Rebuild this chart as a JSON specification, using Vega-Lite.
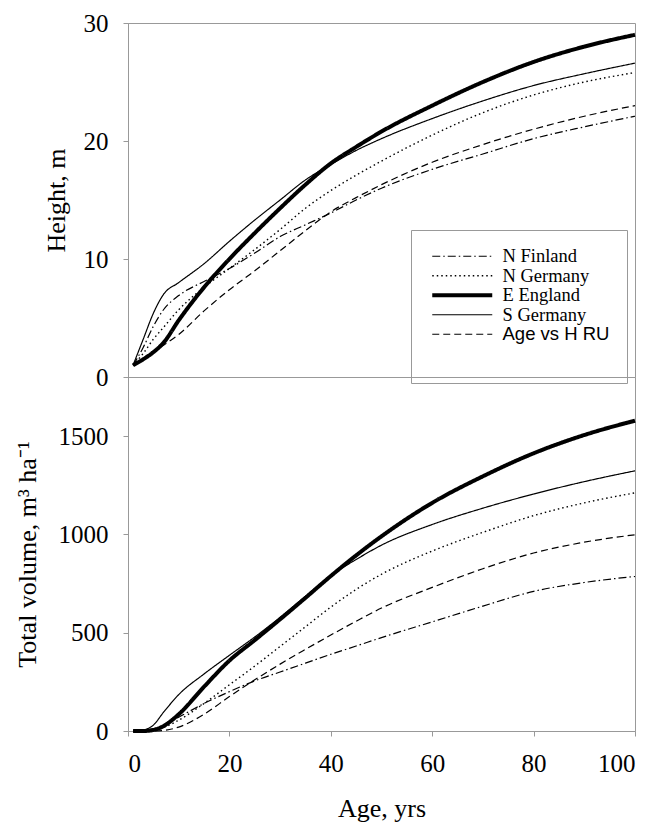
{
  "$schema": "https://vega.github.io/schema/vega-lite/v6.json",
  "background": "white",
  "padding": {"left": 13, "top": 10, "right": 0, "bottom": 0},
  "spacing": 0,
  "bounds": "flush",
  "config": {
    "font": "Liberation Serif",
    "view": {"stroke": "#999", "strokeWidth": 1},
    "axis": {"grid": false, "domainColor": "#999", "tickColor": "#999", "tickSize": 5, "labelFont": "Liberation Serif", "labelFontSize": 25, "labelColor": "black", "titleFont": "Liberation Serif", "titleFontSize": 26, "titleFontWeight": "normal", "titleColor": "black"},
    "legend": {"labelFont": "Liberation Serif", "labelFontSize": 18, "labelColor": "black"}
  },
  "datasets": {
    "height": [
      {"series": "N Finland", "age": 1, "h": 1}, {"series": "N Finland", "age": 3, "h": 2.5}, {"series": "N Finland", "age": 5, "h": 4.3}, {"series": "N Finland", "age": 7, "h": 5.7}, {"series": "N Finland", "age": 10, "h": 6.9}, {"series": "N Finland", "age": 15, "h": 8.1}, {"series": "N Finland", "age": 20, "h": 9.2}, {"series": "N Finland", "age": 25, "h": 10.5}, {"series": "N Finland", "age": 30, "h": 11.9}, {"series": "N Finland", "age": 35, "h": 12.9}, {"series": "N Finland", "age": 40, "h": 13.9}, {"series": "N Finland", "age": 45, "h": 15.0}, {"series": "N Finland", "age": 50, "h": 16.0}, {"series": "N Finland", "age": 60, "h": 17.6}, {"series": "N Finland", "age": 70, "h": 18.9}, {"series": "N Finland", "age": 80, "h": 20.2}, {"series": "N Finland", "age": 90, "h": 21.2}, {"series": "N Finland", "age": 100, "h": 22.1},
      {"series": "N Germany", "age": 1, "h": 1}, {"series": "N Germany", "age": 3, "h": 2.0}, {"series": "N Germany", "age": 5, "h": 3.2}, {"series": "N Germany", "age": 7, "h": 4.2}, {"series": "N Germany", "age": 10, "h": 5.7}, {"series": "N Germany", "age": 15, "h": 7.6}, {"series": "N Germany", "age": 20, "h": 9.2}, {"series": "N Germany", "age": 25, "h": 10.8}, {"series": "N Germany", "age": 30, "h": 12.5}, {"series": "N Germany", "age": 35, "h": 14.3}, {"series": "N Germany", "age": 40, "h": 15.8}, {"series": "N Germany", "age": 45, "h": 17.1}, {"series": "N Germany", "age": 50, "h": 18.3}, {"series": "N Germany", "age": 60, "h": 20.5}, {"series": "N Germany", "age": 70, "h": 22.4}, {"series": "N Germany", "age": 80, "h": 23.9}, {"series": "N Germany", "age": 90, "h": 25.0}, {"series": "N Germany", "age": 100, "h": 25.8},
      {"series": "E England", "age": 1, "h": 1}, {"series": "E England", "age": 3, "h": 1.5}, {"series": "E England", "age": 5, "h": 2.1}, {"series": "E England", "age": 7, "h": 2.9}, {"series": "E England", "age": 10, "h": 4.8}, {"series": "E England", "age": 15, "h": 7.6}, {"series": "E England", "age": 20, "h": 10.0}, {"series": "E England", "age": 25, "h": 12.2}, {"series": "E England", "age": 30, "h": 14.3}, {"series": "E England", "age": 35, "h": 16.3}, {"series": "E England", "age": 40, "h": 18.1}, {"series": "E England", "age": 45, "h": 19.5}, {"series": "E England", "age": 50, "h": 20.8}, {"series": "E England", "age": 60, "h": 23.0}, {"series": "E England", "age": 70, "h": 25.0}, {"series": "E England", "age": 80, "h": 26.7}, {"series": "E England", "age": 90, "h": 28.0}, {"series": "E England", "age": 100, "h": 29.0},
      {"series": "S Germany", "age": 1, "h": 1}, {"series": "S Germany", "age": 3, "h": 3.2}, {"series": "S Germany", "age": 5, "h": 5.4}, {"series": "S Germany", "age": 7, "h": 7.0}, {"series": "S Germany", "age": 10, "h": 8.0}, {"series": "S Germany", "age": 15, "h": 9.6}, {"series": "S Germany", "age": 20, "h": 11.5}, {"series": "S Germany", "age": 25, "h": 13.3}, {"series": "S Germany", "age": 30, "h": 15.0}, {"series": "S Germany", "age": 35, "h": 16.7}, {"series": "S Germany", "age": 40, "h": 18.0}, {"series": "S Germany", "age": 45, "h": 19.2}, {"series": "S Germany", "age": 50, "h": 20.2}, {"series": "S Germany", "age": 60, "h": 21.9}, {"series": "S Germany", "age": 70, "h": 23.4}, {"series": "S Germany", "age": 80, "h": 24.7}, {"series": "S Germany", "age": 90, "h": 25.7}, {"series": "S Germany", "age": 100, "h": 26.6},
      {"series": "Age vs H RU", "age": 1, "h": 1}, {"series": "Age vs H RU", "age": 3, "h": 1.6}, {"series": "Age vs H RU", "age": 5, "h": 2.2}, {"series": "Age vs H RU", "age": 7, "h": 2.7}, {"series": "Age vs H RU", "age": 10, "h": 3.6}, {"series": "Age vs H RU", "age": 15, "h": 5.6}, {"series": "Age vs H RU", "age": 20, "h": 7.4}, {"series": "Age vs H RU", "age": 25, "h": 9.0}, {"series": "Age vs H RU", "age": 30, "h": 10.7}, {"series": "Age vs H RU", "age": 35, "h": 12.4}, {"series": "Age vs H RU", "age": 40, "h": 14.0}, {"series": "Age vs H RU", "age": 45, "h": 15.2}, {"series": "Age vs H RU", "age": 50, "h": 16.3}, {"series": "Age vs H RU", "age": 60, "h": 18.2}, {"series": "Age vs H RU", "age": 70, "h": 19.7}, {"series": "Age vs H RU", "age": 80, "h": 21.0}, {"series": "Age vs H RU", "age": 90, "h": 22.1}, {"series": "Age vs H RU", "age": 100, "h": 23.0}
    ],
    "volume": [
      {"series": "N Finland", "age": 1, "v": 0}, {"series": "N Finland", "age": 3, "v": 3}, {"series": "N Finland", "age": 5, "v": 12}, {"series": "N Finland", "age": 7, "v": 30}, {"series": "N Finland", "age": 10, "v": 70}, {"series": "N Finland", "age": 15, "v": 140}, {"series": "N Finland", "age": 20, "v": 200}, {"series": "N Finland", "age": 25, "v": 255}, {"series": "N Finland", "age": 30, "v": 300}, {"series": "N Finland", "age": 35, "v": 345}, {"series": "N Finland", "age": 40, "v": 390}, {"series": "N Finland", "age": 45, "v": 432}, {"series": "N Finland", "age": 50, "v": 475}, {"series": "N Finland", "age": 60, "v": 555}, {"series": "N Finland", "age": 70, "v": 635}, {"series": "N Finland", "age": 80, "v": 710}, {"series": "N Finland", "age": 90, "v": 755}, {"series": "N Finland", "age": 100, "v": 786},
      {"series": "N Germany", "age": 1, "v": 0}, {"series": "N Germany", "age": 3, "v": 0}, {"series": "N Germany", "age": 5, "v": 5}, {"series": "N Germany", "age": 7, "v": 18}, {"series": "N Germany", "age": 10, "v": 55}, {"series": "N Germany", "age": 15, "v": 140}, {"series": "N Germany", "age": 20, "v": 235}, {"series": "N Germany", "age": 25, "v": 330}, {"series": "N Germany", "age": 30, "v": 430}, {"series": "N Germany", "age": 35, "v": 530}, {"series": "N Germany", "age": 40, "v": 630}, {"series": "N Germany", "age": 45, "v": 720}, {"series": "N Germany", "age": 50, "v": 797}, {"series": "N Germany", "age": 60, "v": 915}, {"series": "N Germany", "age": 70, "v": 1010}, {"series": "N Germany", "age": 80, "v": 1095}, {"series": "N Germany", "age": 90, "v": 1160}, {"series": "N Germany", "age": 100, "v": 1211},
      {"series": "E England", "age": 1, "v": 0}, {"series": "E England", "age": 3, "v": 0}, {"series": "E England", "age": 5, "v": 5}, {"series": "E England", "age": 7, "v": 25}, {"series": "E England", "age": 10, "v": 85}, {"series": "E England", "age": 15, "v": 225}, {"series": "E England", "age": 20, "v": 358}, {"series": "E England", "age": 25, "v": 462}, {"series": "E England", "age": 30, "v": 568}, {"series": "E England", "age": 35, "v": 677}, {"series": "E England", "age": 40, "v": 788}, {"series": "E England", "age": 45, "v": 893}, {"series": "E England", "age": 50, "v": 990}, {"series": "E England", "age": 60, "v": 1160}, {"series": "E England", "age": 70, "v": 1295}, {"series": "E England", "age": 80, "v": 1412}, {"series": "E England", "age": 90, "v": 1505}, {"series": "E England", "age": 100, "v": 1578},
      {"series": "S Germany", "age": 1, "v": 0}, {"series": "S Germany", "age": 3, "v": 5}, {"series": "S Germany", "age": 5, "v": 30}, {"series": "S Germany", "age": 7, "v": 95}, {"series": "S Germany", "age": 10, "v": 185}, {"series": "S Germany", "age": 15, "v": 290}, {"series": "S Germany", "age": 20, "v": 385}, {"series": "S Germany", "age": 25, "v": 478}, {"series": "S Germany", "age": 30, "v": 578}, {"series": "S Germany", "age": 35, "v": 685}, {"series": "S Germany", "age": 40, "v": 790}, {"series": "S Germany", "age": 45, "v": 872}, {"series": "S Germany", "age": 50, "v": 945}, {"series": "S Germany", "age": 60, "v": 1050}, {"series": "S Germany", "age": 70, "v": 1133}, {"series": "S Germany", "age": 80, "v": 1205}, {"series": "S Germany", "age": 90, "v": 1268}, {"series": "S Germany", "age": 100, "v": 1323},
      {"series": "Age vs H RU", "age": 1, "v": 0}, {"series": "Age vs H RU", "age": 3, "v": 0}, {"series": "Age vs H RU", "age": 5, "v": 0}, {"series": "Age vs H RU", "age": 7, "v": 3}, {"series": "Age vs H RU", "age": 10, "v": 20}, {"series": "Age vs H RU", "age": 15, "v": 85}, {"series": "Age vs H RU", "age": 20, "v": 175}, {"series": "Age vs H RU", "age": 25, "v": 260}, {"series": "Age vs H RU", "age": 30, "v": 340}, {"series": "Age vs H RU", "age": 35, "v": 415}, {"series": "Age vs H RU", "age": 40, "v": 488}, {"series": "Age vs H RU", "age": 45, "v": 558}, {"series": "Age vs H RU", "age": 50, "v": 625}, {"series": "Age vs H RU", "age": 60, "v": 730}, {"series": "Age vs H RU", "age": 70, "v": 825}, {"series": "Age vs H RU", "age": 80, "v": 905}, {"series": "Age vs H RU", "age": 90, "v": 960}, {"series": "Age vs H RU", "age": 100, "v": 998}
    ]
  },
  "vconcat": [
    {
      "width": 507,
      "height": 354,
      "data": {"name": "height"},
      "mark": {"type": "line", "interpolate": "monotone", "color": "black"},
      "encoding": {
        "x": {"field": "age", "type": "quantitative", "scale": {"domain": [0, 100], "nice": false}, "axis": null},
        "y": {"field": "h", "type": "quantitative", "scale": {"domain": [0, 30], "nice": false}, "axis": {"title": "Height, m", "values": [0, 10, 20, 30], "labelPadding": 15, "titlePadding": 14}},
        "strokeDash": {"field": "series", "type": "nominal", "scale": {"domain": ["N Finland", "N Germany", "E England", "S Germany", "Age vs H RU"], "range": [[8, 3, 1.5, 3], [1.5, 3], [1, 0], [1, 0], [7, 4]]}, "legend": {"orient": "none", "legendX": 283, "legendY": 207, "title": " ", "titleOrient": "bottom", "titleFontSize": 18, "titlePadding": 4, "strokeColor": "#999", "padding": 17, "symbolType": "M-1,0H11", "symbolSize": 100, "symbolStrokeColor": "black", "labelFontSize": 18.5, "labelFont": "Liberation Serif", "labelColor": "black", "labelOffset": 56, "rowPadding": 0.5, "encode": {"labels": {"update": {"font": {"signal": "datum.label === 'Age vs H RU' ? 'Liberation Sans' : 'Liberation Serif'"}}}}}},
        "strokeWidth": {"field": "series", "type": "nominal", "scale": {"type": "ordinal", "domain": ["N Finland", "N Germany", "E England", "S Germany", "Age vs H RU"], "range": [1.2, 1.4, 4, 1.2, 1.2]}, "legend": {"orient": "none", "legendX": 283, "legendY": 207, "title": " ", "titleOrient": "bottom", "titleFontSize": 18, "titlePadding": 4, "strokeColor": "#999", "padding": 17, "symbolType": "M-1,0H11", "symbolSize": 100, "symbolStrokeColor": "black", "labelFontSize": 18.5, "labelFont": "Liberation Serif", "labelColor": "black", "labelOffset": 56, "rowPadding": 0.5, "encode": {"labels": {"update": {"font": {"signal": "datum.label === 'Age vs H RU' ? 'Liberation Sans' : 'Liberation Serif'"}}}}}}
      }
    },
    {
      "width": 507,
      "height": 354,
      "data": {"name": "volume"},
      "mark": {"type": "line", "interpolate": "monotone", "color": "black"},
      "encoding": {
        "x": {"field": "age", "type": "quantitative", "scale": {"domain": [0, 100], "nice": false}, "axis": {"title": "Age, yrs", "values": [0, 20, 40, 60, 80, 100], "labelPadding": 15, "titlePadding": 19}},
        "y": {"field": "v", "type": "quantitative", "scale": {"domain": [0, 1800], "nice": false}, "axis": {"title": "Total volume, m³ ha⁻¹", "values": [0, 500, 1000, 1500], "format": "d", "labelPadding": 15, "titlePadding": 18}},
        "strokeDash": {"field": "series", "type": "nominal", "scale": {"domain": ["N Finland", "N Germany", "E England", "S Germany", "Age vs H RU"], "range": [[8, 3, 1.5, 3], [1.5, 3], [1, 0], [1, 0], [7, 4]]}, "legend": null},
        "strokeWidth": {"field": "series", "type": "nominal", "scale": {"type": "ordinal", "domain": ["N Finland", "N Germany", "E England", "S Germany", "Age vs H RU"], "range": [1.2, 1.4, 4, 1.2, 1.2]}, "legend": null}
      }
    }
  ],
  "resolve": {"legend": {"strokeDash": "independent", "strokeWidth": "independent"}}
}
